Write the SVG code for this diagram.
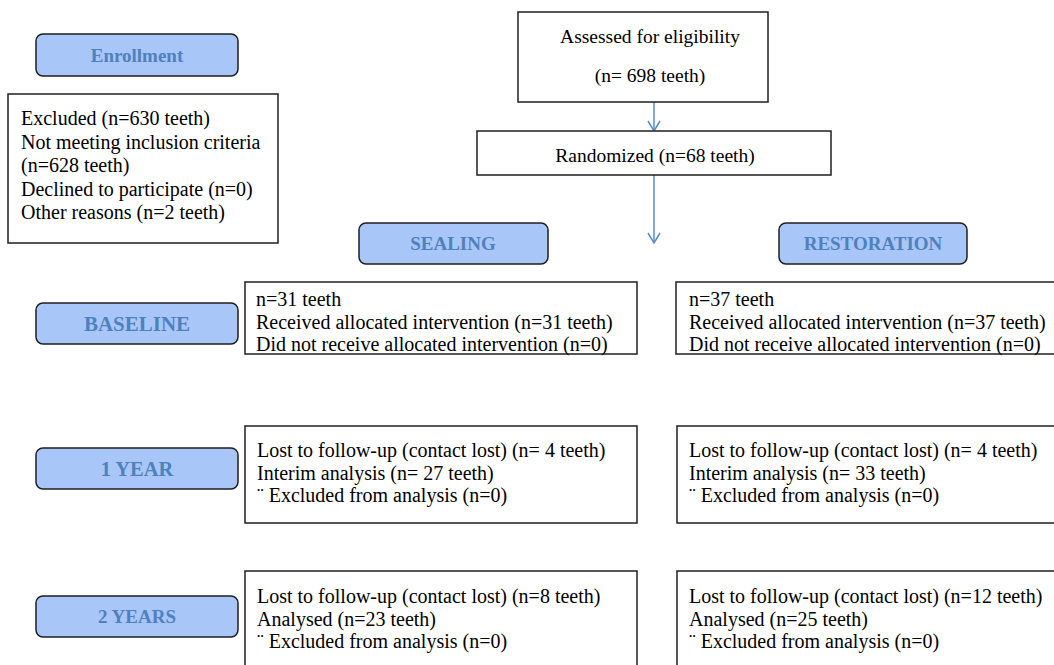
<svg xmlns="http://www.w3.org/2000/svg" width="1054" height="665" viewBox="0 0 1054 665">
<style>
.pill{fill:#a9c6f8;stroke:#1f1f1f;stroke-width:1.5}
.box{fill:#ffffff;stroke:#1f1f1f;stroke-width:1.5}
text{font-family:'Liberation Serif','Tinos','DejaVu Serif','Times New Roman',serif}
.lbl{font-weight:bold;font-size:19px;fill:#4f81bd;text-anchor:middle}
.t{font-size:20px;fill:#000000}
.c{text-anchor:middle;font-size:19.5px}
.arr{stroke:#5b8bc9;stroke-width:1.5;fill:none}
</style>
<defs>
<marker id="ah" markerUnits="userSpaceOnUse" viewBox="-11 -7 12 14" refX="0" refY="0" markerWidth="12" markerHeight="14" orient="auto">
<path d="M-10,-6 L0,0 L-10,6" fill="none" stroke="#5b8bc9" stroke-width="1.5"/>
</marker>
</defs>
<rect width="1054" height="665" fill="#ffffff"/>
<g id="connectors">
<line class="arr" x1="654" y1="102" x2="654" y2="131" marker-end="url(#ah)"/>
<line class="arr" x1="654" y1="175" x2="654" y2="243" marker-end="url(#ah)"/>
</g>
<g id="enrollment">
<rect class="pill" x="36" y="34" width="202" height="42" rx="7"/>
<text class="lbl" x="137" y="62">Enrollment</text>
</g>
<g id="excluded">
<rect class="box" x="8" y="94" width="270" height="149"/>
<text class="t" x="21" y="125">Excluded (n=630 teeth)</text>
<text class="t" x="21" y="148.5">Not meeting inclusion criteria</text>
<text class="t" x="21" y="172">(n=628 teeth)</text>
<text class="t" x="21" y="195.5">Declined to participate (n=0)</text>
<text class="t" x="21" y="219">Other reasons (n=2 teeth)</text>
</g>
<g id="assessed">
<rect class="box" x="518" y="12" width="250" height="90"/>
<text class="t c" x="650" y="43">Assessed for eligibility</text>
<text class="t c" x="650" y="82">(n= 698 teeth)</text>
</g>
<g id="randomized">
<rect class="box" x="477" y="131" width="354" height="44"/>
<text class="t c" x="655" y="162">Randomized (n=68 teeth)</text>
</g>
<g id="sealing">
<rect class="pill" x="359" y="223" width="189" height="41" rx="7"/>
<text class="lbl" x="453" y="250">SEALING</text>
</g>
<g id="restoration">
<rect class="pill" x="779" y="223" width="188" height="41" rx="7"/>
<text class="lbl" x="873" y="250">RESTORATION</text>
</g>
<g id="baseline">
<rect class="pill" x="36" y="303" width="202" height="41" rx="7"/>
<text class="lbl" x="137" y="330.5" style="font-size:21px">BASELINE</text>
</g>
<g id="year1">
<rect class="pill" x="36" y="448" width="202" height="41" rx="7"/>
<text class="lbl" x="137" y="475.5" style="font-size:20.5px">1 YEAR</text>
</g>
<g id="year2">
<rect class="pill" x="36" y="596" width="202" height="41" rx="7"/>
<text class="lbl" x="137" y="623">2 YEARS</text>
</g>
<g id="sealing-baseline">
<rect class="box" x="245" y="282" width="392" height="72"/>
<text class="t" x="256" y="306">n=31 teeth</text>
<text class="t" x="256" y="328.7">Received allocated intervention (n=31 teeth)</text>
<text class="t" x="256" y="351.4">Did not receive allocated intervention (n=0)</text>
</g>
<g id="restoration-baseline">
<rect class="box" x="676" y="282" width="400" height="72"/>
<text class="t" x="689" y="306">n=37 teeth</text>
<text class="t" x="689" y="328.7">Received allocated intervention (n=37 teeth)</text>
<text class="t" x="689" y="351.4">Did not receive allocated intervention (n=0)</text>
</g>
<g id="sealing-1year">
<rect class="box" x="245" y="426" width="392" height="97"/>
<text class="t" x="257" y="457">Lost to follow-up (contact lost) (n= 4 teeth)</text>
<text class="t" x="257" y="479.5">Interim analysis (n= 27 teeth)</text>
<text class="t" x="257" y="502">¨ Excluded from analysis (n=0)</text>
</g>
<g id="restoration-1year">
<rect class="box" x="677" y="426" width="400" height="97"/>
<text class="t" x="689" y="457">Lost to follow-up (contact lost) (n= 4 teeth)</text>
<text class="t" x="689" y="479.5">Interim analysis (n= 33 teeth)</text>
<text class="t" x="689" y="502">¨ Excluded from analysis (n=0)</text>
</g>
<g id="sealing-2years">
<rect class="box" x="245" y="571" width="392" height="110"/>
<text class="t" x="257" y="603">Lost to follow-up (contact lost) (n=8 teeth)</text>
<text class="t" x="257" y="625.5">Analysed (n=23 teeth)</text>
<text class="t" x="257" y="648">¨ Excluded from analysis (n=0)</text>
</g>
<g id="restoration-2years">
<rect class="box" x="677" y="571" width="400" height="110"/>
<text class="t" x="689" y="603">Lost to follow-up (contact lost) (n=12 teeth)</text>
<text class="t" x="689" y="625.5">Analysed (n=25 teeth)</text>
<text class="t" x="689" y="648">¨ Excluded from analysis (n=0)</text>
</g>
</svg>
